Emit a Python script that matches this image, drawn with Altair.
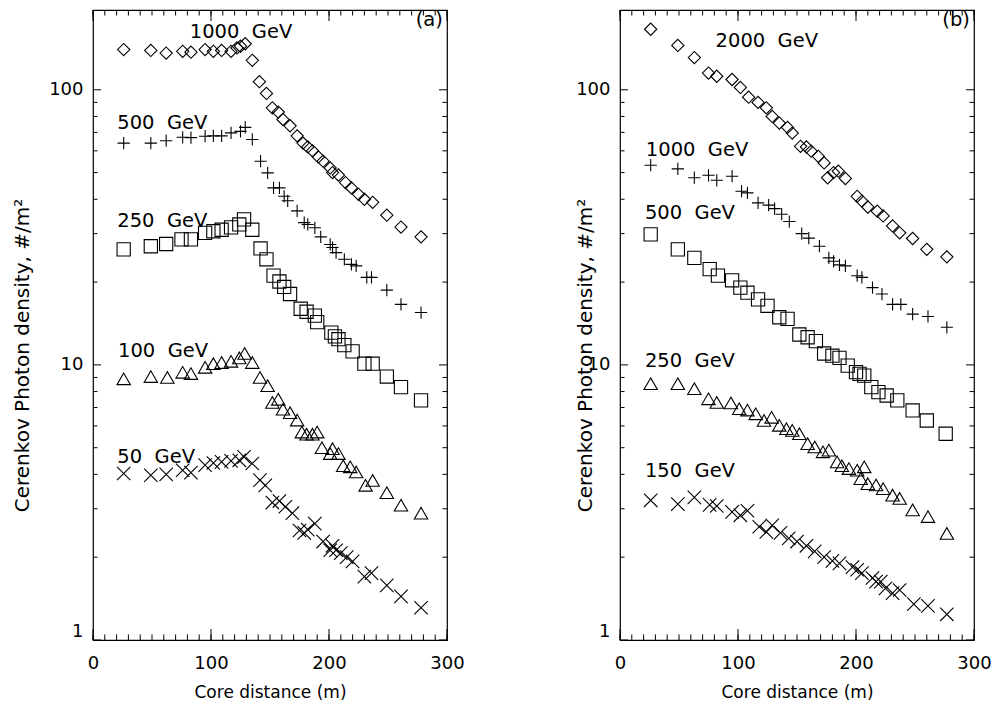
import altair as alt
import pandas as pd

# ---------------- data ----------------
# Panel (a)
A1000_X = [26, 49, 62, 76, 83, 95, 102, 109, 117, 122, 125, 129, 135, 141, 147, 152, 157, 161, 167, 173,
           178, 182, 186, 191, 195, 201, 203, 208, 214, 219, 225, 230, 237, 249, 261, 278]
A1000_Y = [140, 139, 136, 138, 137, 140, 138, 139, 138, 142, 144, 147, 128, 107, 97, 86, 83, 78, 74, 68,
           64, 62, 60, 57, 55, 52, 50, 49, 46, 44, 41.7, 40, 39, 35, 31.7, 29.2]

A500_X = [26, 49, 62, 76, 83, 95, 102, 109, 117, 125, 129, 135, 142, 148, 153, 158, 162, 165, 173, 179,
          182, 188, 193, 201, 203, 206, 213, 219, 223, 232, 236, 249, 261, 278]
A500_Y = [64, 64, 65.3, 67.2, 67, 67.8, 68, 68, 69.7, 70.6, 73, 66, 55, 49.9, 44, 44, 41, 39.5, 36.3, 32.9,
          32.4, 31.5, 29.2, 27.4, 26.7, 25.6, 24.2, 23.2, 22.9, 20.8, 20.8, 18.7, 16.6, 15.5]

A250_X = [26, 49, 62, 75, 83, 95, 102, 109, 117, 124, 128, 135, 142, 147, 153, 158, 162, 167, 176, 181,
          188, 190, 202, 205, 208, 213, 220, 230, 237, 249, 261, 278]
A250_Y = [26.3, 27, 27.5, 28.6, 28.6, 30.2, 30.6, 31, 31.6, 32.4, 33.8, 31, 26.5, 24.2, 21.1, 20.1, 19.2,
          18.1, 16, 15.6, 15.1, 14.3, 13.1, 12.7, 12.4, 11.8, 11.2, 10.1, 10.1, 9.07, 8.3, 7.43]

A100_X = [26, 49, 63, 76, 83, 95, 102, 109, 117, 124, 128.5, 135, 141.5, 148, 152, 157, 161, 167, 173, 177,
          181, 186, 190, 194, 201, 203, 208, 212, 218, 223, 231, 237, 249, 261, 278]
A100_Y = [8.9, 9.07, 9.0, 9.4, 9.3, 9.8, 10.1, 10.2, 10.3, 10.6, 11.0, 10.2, 9.0, 8.4, 7.3, 7.5, 6.9, 6.7,
          6.3, 5.7, 5.6, 5.6, 5.7, 5.0, 4.76, 4.96, 4.76, 4.3, 4.26, 4.08, 3.65, 3.8, 3.43, 3.09, 2.89]

A50_X = [26, 49, 62, 76, 83, 95, 102, 109, 117, 124, 128, 135, 141.5, 146, 152, 158, 163, 169, 175, 179,
         182, 188, 195, 201, 203, 206, 210, 215, 220, 230, 236, 249, 261, 278]
A50_Y = [4.03, 3.97, 4.0, 4.14, 4.06, 4.32, 4.4, 4.44, 4.48, 4.5, 4.63, 4.38, 3.81, 3.65, 3.16, 3.2, 3.05,
         2.89, 2.5, 2.45, 2.52, 2.65, 2.28, 2.12, 2.2, 2.12, 2.07, 2.0, 1.93, 1.70, 1.75, 1.58, 1.44, 1.31]

# Panel (b)
B2000_X = [26, 49, 63, 75, 82, 95, 102, 109, 117, 124, 129, 135, 142, 146, 153, 158, 162, 168, 173, 176,
           181, 185, 191, 201, 205, 210, 218, 223, 231, 237, 248, 260, 277]
B2000_Y = [166, 145, 131, 115, 112, 109, 102, 94, 90, 86, 80, 75.7, 73, 69.6, 62.3, 62, 59.8, 57.3, 54.2,
           47.9, 50, 50.6, 47.6, 41, 39.4, 37.5, 36.2, 34.8, 32, 30.2, 28.8, 26.3, 24.7]

B1000_X = [26, 49, 63, 75, 82, 95, 103, 108, 117, 126, 131, 137, 143.5, 154, 160, 169, 177, 181, 186, 191,
           201, 205, 214, 222, 231, 238, 248, 261, 277]
B1000_Y = [53.2, 51.6, 47.9, 48.9, 46.9, 48.5, 42.8, 42.2, 38.8, 38.1, 37, 35.3, 33.2, 30, 28.9, 27, 24.5,
           23.8, 23.1, 22.9, 21.1, 20.8, 19.1, 18.1, 16.6, 16.6, 15.3, 15, 13.7]

B500_X = [26, 49, 63, 76, 83, 95, 102, 108, 117, 125, 135, 142, 152, 159, 166, 173, 180, 186, 193, 200,
          203, 207, 213, 219, 226, 235, 248, 260, 276]
B500_Y = [29.8, 26.3, 24.5, 22.3, 21.1, 20.3, 19.1, 18.3, 17.3, 16.4, 14.9, 14.7, 12.9, 12.6, 12.2, 11.0,
          10.8, 10.6, 9.94, 9.41, 9.28, 9.14, 8.3, 7.96, 7.74, 7.43, 6.83, 6.28, 5.62]

B250_X = [26, 49, 63, 75, 82, 94, 101, 108, 115, 122, 128.5, 135, 141, 146, 152, 159, 165, 172, 177, 184,
          188, 194, 201, 204, 207, 210, 217, 223, 231, 237, 248, 261, 277]
B250_Y = [8.54, 8.54, 8.19, 7.53, 7.3, 7.27, 6.93, 6.85, 6.64, 6.28, 6.45, 6.03, 5.86, 5.78, 5.62, 5.17,
          5.03, 4.83, 4.9, 4.44, 4.3, 4.2, 4.14, 3.86, 4.26, 3.7, 3.66, 3.55, 3.36, 3.27, 2.97, 2.81, 2.44]

B150_X = [26, 49, 63, 76, 82, 95, 102, 108, 118, 124, 129, 136, 143, 150, 158, 165, 173, 180, 186, 197,
          201, 205, 214, 217, 221, 225, 231, 237, 249, 261, 277]
B150_Y = [3.22, 3.12, 3.3, 3.1, 3.07, 2.92, 2.84, 2.95, 2.58, 2.47, 2.61, 2.45, 2.34, 2.28, 2.2, 2.1, 2.0,
          1.94, 1.9, 1.84, 1.8, 1.75, 1.68, 1.63, 1.63, 1.54, 1.48, 1.52, 1.35, 1.33, 1.24]

# Annotation texts
A_LABELS = ["1000\u00a0\u00a0GeV", "500\u00a0\u00a0GeV", "250\u00a0\u00a0GeV", "100\u00a0\u00a0GeV", "50\u00a0\u00a0GeV"]
A_LABEL_X = [82, 20.6, 20.6, 21.2, 20.6]
A_LABEL_Y = [154, 72.2, 31.7, 10.66, 4.40]
B_LABELS = ["2000\u00a0\u00a0GeV", "1000\u00a0\u00a0GeV", "500\u00a0\u00a0GeV", "250\u00a0\u00a0GeV", "150\u00a0\u00a0GeV"]
B_LABEL_X = [81, 21.9, 21.1, 21.1, 21.1]
B_LABEL_Y = [143.5, 57.3, 33.8, 9.81, 3.92]
PANEL_TAGS = ["(a)", "(b)"]

X_MAJOR = [0, 100, 200, 300]
X_MINOR = [v for v in range(0, 301, 10)]
Y_MAJOR = [1, 10, 100]
Y_MINOR = [2, 3, 4, 5, 6, 7, 8, 9, 20, 30, 40, 50, 60, 70, 80, 90]

# ---------------- styling ----------------
W, H = 354, 630
FONT = "DejaVu Sans"
PLUS = "M-1,0L1,0M0,-1L0,1"
XMARK = "M-1,-1L1,1M-1,1L1,-1"
SHAPES = [("diamond", 150), (PLUS, 150), ("square", 175), ("triangle-up", 180), (XMARK, 180)]
XT_MAJ, XT_MIN, YT_MAJ, YT_MIN = 11, 5.5, 8, 4.5
Y_TITLE = "Cerenkov Photon density, #/m\u00b2"

xscale = alt.Scale(domain=[0, 300], nice=False, zero=False)
yscale = alt.Scale(type="log", domain=[1, 195], nice=False)

X_AXIS = alt.Axis(orient="bottom", values=X_MAJOR, ticks=False, domain=False, grid=False, format="d",
                  title="Core distance (m)", labelPadding=14, titlePadding=12, labelFlush=False,
                  labelOverlap=False)
Y_AXIS_A = alt.Axis(orient="left", values=Y_MAJOR, ticks=False, domain=False, grid=False, format="d",
                    title=Y_TITLE, labelPadding=10, titlePadding=16,
                    labelOverlap=False, labelFlush=True, titleFontSize=20, titleY=345)
Y_AXIS_B = alt.Axis(orient="left", values=Y_MAJOR, ticks=False, domain=False, grid=False, format="d",
                    title=Y_TITLE, labelPadding=10, titleX=-25,
                    labelOverlap=False, labelFlush=True, titleFontSize=20, titleY=345)


def panel(series, labels, lx, ly, tag, yaxis):
    def X(field):
        return alt.X(field, scale=xscale, axis=X_AXIS)

    def Y(field):
        return alt.Y(field, scale=yscale, axis=yaxis)

    layers = []
    for (xs, ys), (shape, size) in zip(series, SHAPES):
        df = pd.DataFrame({"x": xs, "y": ys})
        layers.append(
            alt.Chart(df).mark_point(shape=shape, size=size, filled=False, stroke="black",
                                     strokeWidth=1.1, opacity=1)
            .encode(x=X("x:Q"), y=Y("y:Q"))
        )
    # inward ticks on all four sides, positioned through the scales
    xmaj = pd.DataFrame({"v": X_MAJOR})
    xmin = pd.DataFrame({"v": X_MINOR})
    ymaj = pd.DataFrame({"v": Y_MAJOR})
    ymin = pd.DataFrame({"v": Y_MINOR})
    for df, ln in ((xmaj, XT_MAJ), (xmin, XT_MIN)):
        for y0, y1 in ((H, H - ln), (0, ln)):
            layers.append(alt.Chart(df).mark_rule(color="black", strokeWidth=1).encode(
                x=X("v:Q"), y=alt.value(y0), y2=alt.value(y1)))
    for df, ln in ((ymaj, YT_MAJ), (ymin, YT_MIN)):
        for x0, x1 in ((0, ln), (W, W - ln)):
            layers.append(alt.Chart(df).mark_rule(color="black", strokeWidth=1).encode(
                y=Y("v:Q"), x=alt.value(x0), x2=alt.value(x1)))

    ldf = pd.DataFrame({"x": lx, "y": ly, "t": labels})
    layers.append(
        alt.Chart(ldf).mark_text(align="left", baseline="alphabetic", font=FONT, fontSize=19.5,
                                 color="black")
        .encode(x=X("x:Q"), y=Y("y:Q"), text="t:N")
    )
    tdf = pd.DataFrame({"x": [296.5], "y": [171], "t": [tag]})
    layers.append(
        alt.Chart(tdf).mark_text(align="right", baseline="alphabetic", font=FONT, fontSize=19.5,
                                 color="black")
        .encode(x=X("x:Q"), y=Y("y:Q"), text="t:N")
    )
    return alt.layer(*layers).properties(width=W, height=H)


panel_a = panel([(A1000_X, A1000_Y), (A500_X, A500_Y), (A250_X, A250_Y), (A100_X, A100_Y), (A50_X, A50_Y)],
                A_LABELS, A_LABEL_X, A_LABEL_Y, PANEL_TAGS[0], Y_AXIS_A)
panel_b = panel([(B2000_X, B2000_Y), (B1000_X, B1000_Y), (B500_X, B500_Y), (B250_X, B250_Y), (B150_X, B150_Y)],
                B_LABELS, B_LABEL_X, B_LABEL_Y, PANEL_TAGS[1], Y_AXIS_B)

chart = alt.hconcat(panel_a, panel_b, spacing=109).properties(
    padding={"left": 12, "top": 8, "right": 0, "bottom": 0},
    background="white",
).configure_view(stroke="black", strokeWidth=1.2).configure_axis(
    labelFont=FONT, labelFontSize=18, labelColor="black",
    titleFont=FONT, titleFontSize=17, titleColor="black", titleFontWeight="normal",
)

chart.save("out.html", embed_options={"renderer": "svg", "actions": False})
